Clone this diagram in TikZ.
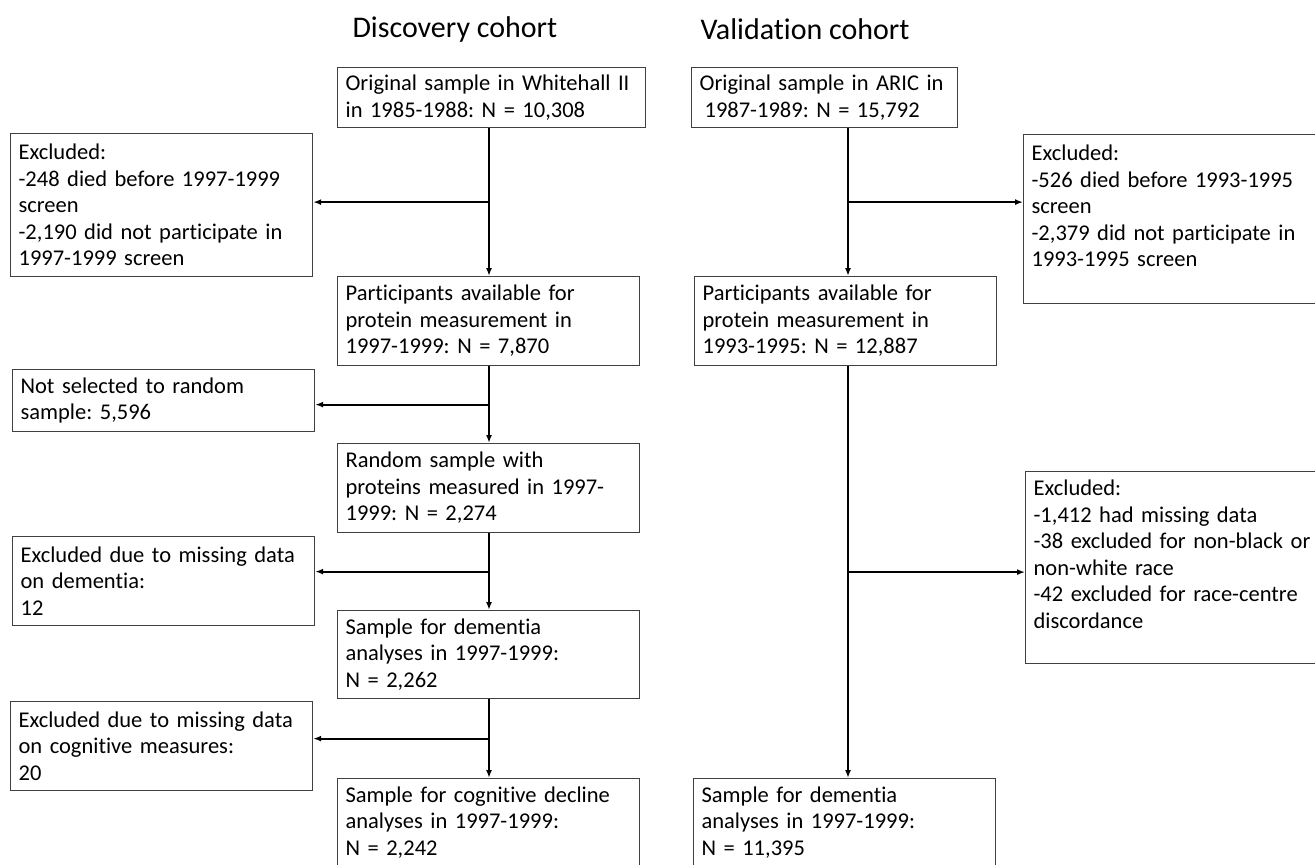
\documentclass[tikz,border=0pt]{standalone}
\usepackage{fontspec}
\setmainfont{Carlito}[Ligatures=NoCommon]
\usetikzlibrary{calc,arrows.meta}

\definecolor{BoxLineColor}{rgb}{0.25,0.25,0.25}
\tikzstyle{cohort-box-base}=[rectangle,
                             draw=BoxLineColor,
                             line width=1.2pt,
                             anchor=north west,
                             align=left,
                             inner xsep=8pt,
                             inner ysep=0pt,
                             font=\fontsize{22.5}{26.5}\selectfont\frenchspacing
                            ]
\tikzstyle{wide}=[cohort-box-base,
                  text width=286pt,
                  minimum width=302pt]
\tikzstyle{flow}=[line width=1.8pt, -{Latex[length=8pt,width=6pt]}]

\begin{document}
\begin{tikzpicture}[x=1pt, y=-1pt]
\useasboundingbox (0,0) rectangle (1315,865);

\node at (349,29) (disc_title) [anchor=west, font=\fontsize{30}{36}\selectfont] {Discovery cohort};
\node at (697,29) (val_title) [anchor=west, font=\fontsize{30}{36}\selectfont] {Validation cohort};

% discovery cohort
\node at (337,67)  (disc_step0) [wide, text width=292pt, minimum width=308pt, minimum height=60pt] {Original sample in Whitehall II\\in 1985-1988: N = 10,308};
\node at (10,133)  (disc_excl0) [wide, minimum height=143pt] {Excluded:\\-248 died before 1997-1999\\screen\\-2,190 did not participate in\\1997-1999 screen};
\node at (337,276) (disc_step1) [wide, minimum height=89pt] {Participants available for\\protein measurement in\\1997-1999: N = 7,870};
\node at (12,369)  (disc_excl1) [wide, minimum height=62pt] {Not selected to random\\sample: 5,596};
\node at (337,443) (disc_step2) [wide, minimum height=89pt] {Random sample with\\proteins measured in 1997-\\1999: N = 2,274};
\node at (12,536)  (disc_excl2) [wide, minimum height=89pt] {Excluded due to missing data\\on dementia:\\12};
\node at (337,610) (disc_step3) [wide, minimum height=88pt] {Sample for dementia\\analyses in 1997-1999:\\N = 2,262};
\node at (10,701)  (disc_excl3) [wide, minimum height=89pt] {Excluded due to missing data\\on cognitive measures:\\20};
\node at (337,778) (disc_step4) [wide, minimum height=88pt] {Sample for cognitive decline\\analyses in 1997-1999:\\N = 2,242};

% validation cohort
\node at (691,67)   (val_step0) [wide, text width=250pt, minimum width=266pt, minimum height=60pt] {Original sample in ARIC in\\\hspace*{5pt}1987-1989: N = 15,792};
\node at (1023,134) (val_excl0) [wide, text width=294pt, minimum width=310pt, minimum height=169pt] {Excluded:\\-526 died before 1993-1995\\screen\\-2,379 did not participate in\\1993-1995 screen\\\mbox{}};
\node at (694,276)  (val_step1) [wide, minimum height=89pt] {Participants available for\\protein measurement in\\1993-1995: N = 12,887};
\node at (1025,471) (val_excl1) [wide, text width=294pt, minimum width=310pt, minimum height=192pt] {Excluded:\\-1,412 had missing data\\-38 excluded for non-black or\\non-white race\\-42 excluded for race-centre\\discordance\\\mbox{}};
\node at (693,778)  (val_step2) [wide, minimum height=88pt] {Sample for dementia\\analyses in 1997-1999:\\N = 11,395};

\coordinate (disc_spine) at (489,0);
\draw[flow] (disc_step0.south -| disc_spine) -- (disc_step1.north -| disc_spine);
\draw[flow] (disc_step1.south -| disc_spine) -- (disc_step2.north -| disc_spine);
\draw[flow] (disc_step2.south -| disc_spine) -- (disc_step3.north -| disc_spine);
\draw[flow] (disc_step3.south -| disc_spine) -- (disc_step4.north -| disc_spine);

\path ($(disc_step0.south -| disc_spine)!.5!(disc_step1.north -| disc_spine)$) coordinate (disc_split0);
\path ($(disc_step1.south -| disc_spine)!.5!(disc_step2.north -| disc_spine)$) coordinate (disc_split1);
\path ($(disc_step2.south -| disc_spine)!.5!(disc_step3.north -| disc_spine)$) coordinate (disc_split2);
\path ($(disc_step3.south -| disc_spine)!.5!(disc_step4.north -| disc_spine)$) coordinate (disc_split3);
\draw[flow] (disc_split0) -- (disc_split0 -| disc_excl0.east);
\draw[flow] (disc_split1) -- (disc_split1 -| disc_excl1.east);
\draw[flow] (disc_split2) -- (disc_split2 -| disc_excl2.east);
\draw[flow] (disc_split3) -- (disc_split3 -| disc_excl3.east);

\coordinate (val_spine) at (848,0);
\draw[flow] (val_step0.south -| val_spine) -- (val_step1.north -| val_spine);
\draw[flow] (val_step1.south -| val_spine) -- (val_step2.north -| val_spine);
\path ($(val_step0.south -| val_spine)!.5!(val_step1.north -| val_spine)$) coordinate (val_split0);
\path ($(val_step1.south -| val_spine)!.5!(val_step2.north -| val_spine)$) coordinate (val_split1);
\draw[flow] (val_split0) -- (val_split0 -| val_excl0.west);
\draw[flow] (val_split1) -- (val_split1 -| val_excl1.west);

\end{tikzpicture}
\end{document}
